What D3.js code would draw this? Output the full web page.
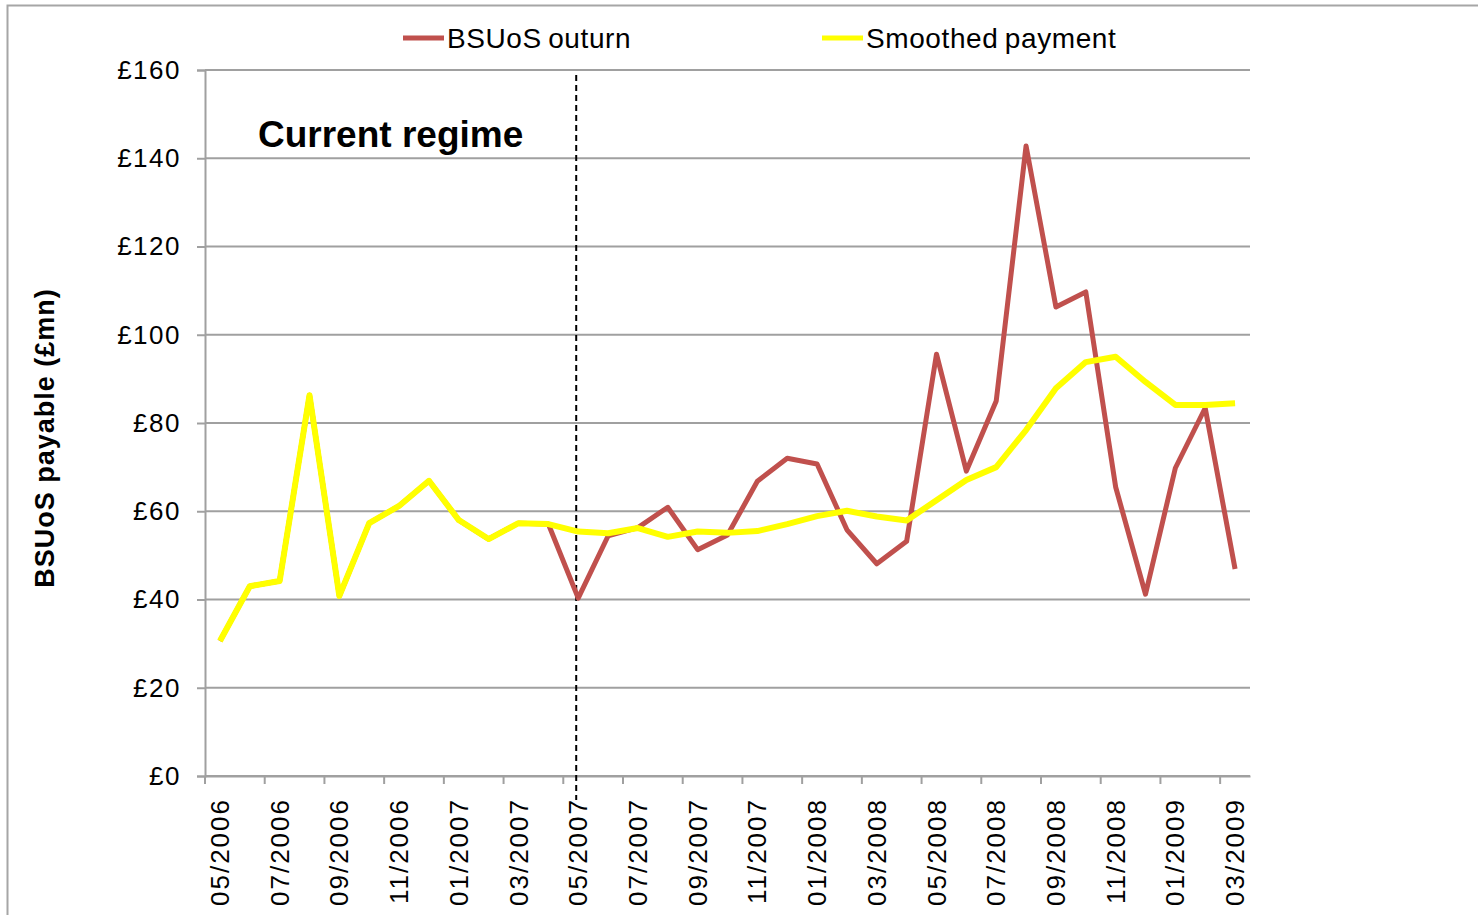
<!DOCTYPE html>
<html>
<head>
<meta charset="utf-8">
<script src="https://cdn.jsdelivr.net/npm/d3@7"></script>
<style>
  body { margin: 0; background: #fff; }
  svg { font-family: "Liberation Sans", Arial, sans-serif; }
</style>
</head>
<body>
<div id="chart-area"></div>
<script>
// monthly categories
let months = ["05/2006","06/2006","07/2006","08/2006","09/2006","10/2006","11/2006","12/2006",
    "01/2007","02/2007","03/2007","04/2007","05/2007","06/2007","07/2007","08/2007","09/2007","10/2007","11/2007","12/2007",
    "01/2008","02/2008","03/2008","04/2008","05/2008","06/2008","07/2008","08/2008","09/2008","10/2008","11/2008","12/2008",
    "01/2009","02/2009","03/2009"];

let outturn = [30.6, 43, 44.2, 86.3, 40.8, 57.3, 61.2, 66.9, 58, 53.7, 57.3, 57.1,
    40.3, 54.4, 56.3, 60.9, 51.3, 54.6, 66.8, 72, 70.7, 55.8, 48.1, 53.2,
    95.6, 69.1, 85, 142.8, 106.3, 109.7, 65.5, 41.2, 69.8, 83.4, 46.9];

let smoothed = [30.6, 43, 44.2, 86.3, 40.8, 57.3, 61.2, 66.9, 58, 53.7, 57.3, 57.1,
    55.4, 55, 56.2, 54.2, 55.4, 55.1, 55.5, 57.1, 58.9, 60.1, 58.8, 57.9,
    62.5, 67.1, 70, 78.4, 87.9, 93.8, 95, 89.3, 84.1, 84.1, 84.5];

let yTicks = [0, 20, 40, 60, 80, 100, 120, 140, 160];
let xLabels = months.filter((d, i) => i % 2 === 0);
let regimeChange = "05/2007";

let margin = {top: 70, right: 228, bottom: 139, left: 205},
    width = 1478 - margin.left - margin.right,
    height = 915 - margin.top - margin.bottom;

let svg = d3.select("#chart-area")
    .append("svg")
        .attr("width", 1478)
        .attr("height", 915);

// outer frame (cropped at right/bottom)
svg.append("rect")
    .attr("x", 7.5).attr("y", 5.5)
    .attr("width", 1500).attr("height", 1000)
    .attr("fill", "none")
    .attr("stroke", "#a6a6a6")
    .attr("stroke-width", 2);

let g = svg.append("g")
    .attr("transform", "translate(" + margin.left + ", " + margin.top + ")");

let x = d3.scaleBand()
    .domain(months)
    .range([0, width])
    .padding(0);

let y = d3.scaleLinear()
    .domain([0, 160])
    .range([height, 0]);

let cx = d => x(d) + x.bandwidth() / 2;

// gridlines
g.append("g")
    .selectAll("line")
    .data(yTicks)
    .enter().append("line")
        .attr("x1", 0).attr("x2", width)
        .attr("y1", d => y(d)).attr("y2", d => y(d))
        .attr("stroke", "#a0a0a0")
        .attr("stroke-width", 2);

// y axis
let yAxisGroup = g.append("g")
    .attr("class", "y-axis")
    .call(d3.axisLeft(y).tickValues(yTicks).tickFormat(d => "£" + d).tickSize(8).tickPadding(16));
yAxisGroup.select(".domain").attr("stroke", "#a0a0a0").attr("stroke-width", 2);
yAxisGroup.selectAll(".tick line").attr("stroke", "#a0a0a0").attr("stroke-width", 2);
yAxisGroup.selectAll("text")
    .attr("font-size", "26px")
    .attr("letter-spacing", "1.5px")
    .attr("fill", "#000");

// x axis - labels at category centres, tick marks at category boundaries
let xAxisGroup = g.append("g")
    .attr("class", "x-axis")
    .attr("transform", "translate(0, " + height + ")")
    .call(d3.axisBottom(x).tickValues(xLabels).tickSize(0).tickPadding(0));
xAxisGroup.select(".domain").attr("stroke", "#a0a0a0").attr("stroke-width", 2);
xAxisGroup.selectAll("text")
    .attr("font-size", "26px")
    .attr("letter-spacing", "2px")
    .attr("fill", "#000")
    .attr("text-anchor", "end")
    .attr("dy", "0.35em")
    .attr("transform", "translate(0, 22) rotate(-90)")
    .attr("x", 0).attr("y", 0);

xAxisGroup.append("g")
    .selectAll("line")
    .data(xLabels)
    .enter().append("line")
        .attr("x1", d => x(d)).attr("x2", d => x(d))
        .attr("y1", 0).attr("y2", 8)
        .attr("stroke", "#a0a0a0")
        .attr("stroke-width", 2);

// regime change marker
g.append("line")
    .attr("x1", cx(regimeChange) - 2).attr("x2", cx(regimeChange) - 2)
    .attr("y1", 5).attr("y2", height + 24)
    .attr("stroke", "#000")
    .attr("stroke-width", 2)
    .attr("stroke-dasharray", "6,4");

g.append("text")
    .attr("x", 53)
    .attr("y", 77)
    .attr("font-size", "37px")
    .attr("font-weight", "bold")
    .text("Current regime");

// lines
let line = d3.line()
    .x((d, i) => cx(months[i]))
    .y(d => y(d));

g.append("path")
    .datum(outturn)
    .attr("fill", "none")
    .attr("stroke", "#C0504D")
    .attr("stroke-width", 5)
    .attr("stroke-linejoin", "round")
    .attr("d", line);

g.append("path")
    .datum(smoothed)
    .attr("fill", "none")
    .attr("stroke", "#FFFF00")
    .attr("stroke-width", 6)
    .attr("stroke-linejoin", "round")
    .attr("d", line);

// legend
let legend = [
    {name: "BSUoS outurn", color: "#C0504D", x: 403},
    {name: "Smoothed payment", color: "#FFFF00", x: 822}
];
let lg = svg.selectAll(".legend")
    .data(legend)
    .enter().append("g")
        .attr("class", "legend")
        .attr("transform", d => "translate(" + d.x + ", 38)");
lg.append("line")
    .attr("x1", 0).attr("x2", 41)
    .attr("stroke", d => d.color)
    .attr("stroke-width", 5);
lg.append("text")
    .attr("x", 44)
    .attr("dy", "0.35em")
    .attr("font-size", "28px")
    .attr("letter-spacing", "0.6px")
    .attr("word-spacing", "-2px")
    .text(d => d.name);

// y axis label
svg.append("text")
    .attr("transform", "translate(54, 438) rotate(-90)")
    .attr("text-anchor", "middle")
    .attr("font-size", "27px")
    .attr("font-weight", "bold")
    .attr("letter-spacing", "1px")
    .text("BSUoS payable (£mn)");
</script>
</body>
</html>
